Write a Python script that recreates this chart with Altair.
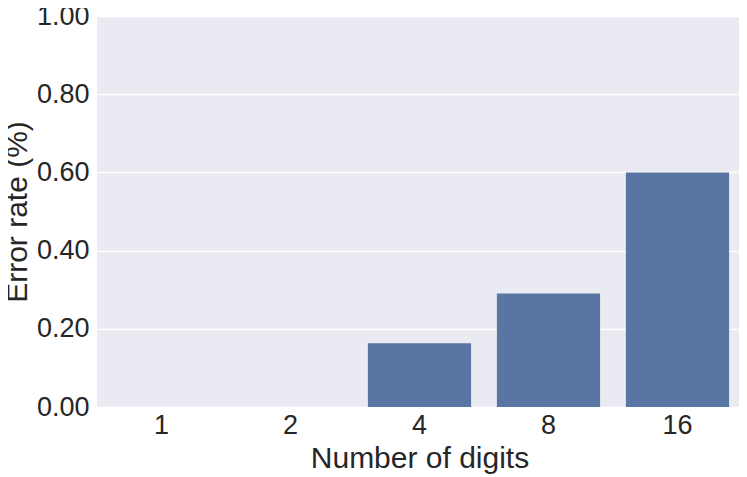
import altair as alt
import pandas as pd

digits = ["1", "2", "4", "8", "16"]
error_rate = [0.0, 0.0, 0.163, 0.29, 0.60]

df = pd.DataFrame({"digits": digits, "rate": error_rate})

chart = alt.Chart(df).mark_bar(color="#5975A4").encode(
    x=alt.X("digits:N", sort=digits,
            scale=alt.Scale(paddingInner=0.2, paddingOuter=0.1),
            axis=alt.Axis(title="Number of digits", labelAngle=0, grid=False,
                          domain=False, ticks=False, labelPadding=5,
                          titlePadding=5)),
    y=alt.Y("rate:Q", scale=alt.Scale(domain=[0, 1]),
            axis=alt.Axis(title="Error rate (%)", format=".2f",
                          values=[0, 0.2, 0.4, 0.6, 0.8, 1.0],
                          domain=False, ticks=False, labelPadding=8,
                          titlePadding=4, gridColor="white", gridWidth=1.3)),
).properties(
    width=645, height=391,
    autosize=alt.AutoSizeParams(type="none"),
    padding={"left": 89, "top": 8, "right": 0, "bottom": 70},
).configure_view(
    fill="#EAEAF2", stroke=None
).configure_axis(
    labelFont="Liberation Sans", titleFont="Liberation Sans",
    labelFontSize=27, titleFontSize=30, labelColor="#262626",
    titleColor="#262626", titleFontWeight="normal"
)

chart.save("out.html", embed_options={"renderer": "svg", "actions": False})

# let text that reaches into the page margin stay visible
with open("out.html", encoding="utf-8") as f:
    html = f.read()
html = html.replace("</head>", "<style>svg{overflow:visible}</style></head>", 1)
with open("out.html", "w", encoding="utf-8") as f:
    f.write(html)
